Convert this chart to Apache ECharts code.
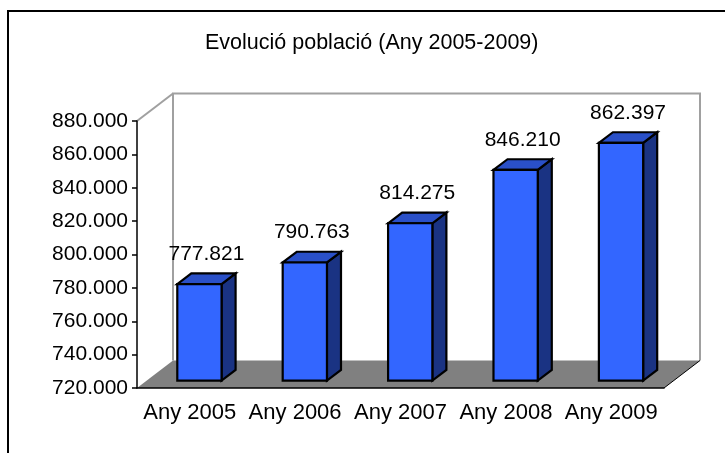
<!DOCTYPE html>
<html>
<head>
<meta charset="utf-8">
<script src="https://cdn.jsdelivr.net/npm/echarts@6/dist/echarts.min.js"></script>
<style>
  html, body { margin: 0; padding: 0; background: #fff; }
  #chart { width: 725px; height: 453px; }
</style>
</head>
<body>
<div id="chart"></div>
<script>
// Population by year
var years = ['Any 2005', 'Any 2006', 'Any 2007', 'Any 2008', 'Any 2009'];
var population = [777821, 790763, 814275, 846210, 862397];
var yMin = 720000, yMax = 880000, yStep = 20000;

var FONT = 'Liberation Sans, Arial, sans-serif';
// depth of the 3D box, in pixels
var DX = 36, DY = 27.5;
// bar placement inside the depth (fractions) and bar width (fraction of a category)
var BAR_FRONT = 0.27, BAR_DEPTH = 0.39, BAR_WIDTH = 0.42;

function fmt(v) {
  return String(Math.round(v)).replace(/\B(?=(\d{3})+(?!\d))/g, '.');
}

// walls and floor of the 3D frame
function renderFrame(params, api) {
  var cs = params.coordSys;
  var x0 = cs.x, x1 = cs.x + cs.width, yt = cs.y, yb = cs.y + cs.height;
  var edge = { fill: 'none', stroke: '#a0a0a0', lineWidth: 2 };
  return {
    type: 'group',
    children: [
      { type: 'polygon', shape: { points: [[x0, yt], [x0 + DX, yt - DY], [x0 + DX, yb - DY], [x0, yb]] },
        style: { fill: '#ffffff', stroke: 'none' } },
      { type: 'rect', shape: { x: x0 + DX, y: yt - DY, width: cs.width, height: cs.height },
        style: { fill: '#ffffff', stroke: 'none' } },
      { type: 'polyline', shape: { points: [[x0 + DX, yb - DY], [x0 + DX, yt - DY], [x1 + DX, yt - DY], [x1 + DX, yb - DY]] },
        style: edge },
      { type: 'line', shape: { x1: x0, y1: yt, x2: x0 + DX, y2: yt - DY }, style: edge },
      { type: 'polygon', shape: { points: [[x0, yb], [x0 + DX, yb - DY], [x1 + DX, yb - DY], [x1, yb]] },
        style: { fill: '#808080', stroke: 'none' } },
      { type: 'line', shape: { x1: x1, y1: yb, x2: x1 + DX, y2: yb - DY },
        style: { fill: 'none', stroke: '#000', lineWidth: 1 } }
    ]
  };
}

// 3D bar: front, top and right side faces plus the value label
function renderBar(params, api) {
  var i = api.value(0), v = api.value(1);
  var top = api.coord([i, v]);
  var bot = api.coord([i, yMin]);
  var w = api.size([1, 0])[0] * BAR_WIDTH;
  var fx = BAR_FRONT * DX, fy = BAR_FRONT * DY;
  var bx = BAR_DEPTH * DX, by = BAR_DEPTH * DY;
  var xl = top[0] - w / 2 + fx, xr = top[0] + w / 2 + fx;
  var yT = top[1] - fy, yB = bot[1] - fy;
  var line = { stroke: '#000', lineWidth: 2.2, lineJoin: 'miter' };
  return {
    type: 'group',
    children: [
      { type: 'polygon', shape: { points: [[xr, yT], [xr + bx, yT - by], [xr + bx, yB - by], [xr, yB]] },
        style: Object.assign({ fill: '#1a3383' }, line) },
      { type: 'polygon', shape: { points: [[xl, yT], [xl + bx, yT - by], [xr + bx, yT - by], [xr, yT]] },
        style: Object.assign({ fill: '#2a50c8' }, line) },
      { type: 'rect', shape: { x: xl, y: yT, width: w, height: yB - yT },
        style: Object.assign({ fill: '#3366ff' }, line) },
      { type: 'text', style: { text: fmt(v), x: (xl + xr + bx) / 2, y: yT - by - 9,
        align: 'center', verticalAlign: 'bottom', fontSize: 21, fontFamily: FONT,
        fill: '#000000', stroke: 'none' } }
    ]
  };
}

var chart = echarts.init(document.getElementById('chart'), null, { renderer: 'canvas' });
chart.setOption({
  backgroundColor: '#ffffff',
  animation: false,
  title: {
    text: 'Evolució població (Any 2005-2009)',
    left: 200, top: 27,
    textStyle: { fontSize: 21.5, fontWeight: 'normal', fontFamily: FONT, color: '#000' }
  },
  graphic: [{
    type: 'rect', z: 100, silent: true,
    shape: { x: 8, y: 11, width: 740, height: 470 },
    style: { fill: 'none', stroke: '#000', lineWidth: 2 }
  }],
  grid: { left: 137, top: 121, width: 527, height: 267 },
  xAxis: {
    type: 'category', data: years,
    axisLine: { lineStyle: { color: '#000', width: 1.5 } },
    axisTick: { length: 7, interval: 0, lineStyle: { color: '#000', width: 1.5 } },
    axisLabel: { interval: 0, margin: 14, fontSize: 22, fontFamily: FONT, color: '#000' },
    splitLine: { show: false }
  },
  yAxis: {
    type: 'value', min: yMin, max: yMax, interval: yStep,
    axisLine: { show: true, lineStyle: { color: '#000', width: 1.5 } },
    axisTick: { show: true, length: 5, lineStyle: { color: '#000', width: 1.5 } },
    axisLabel: { margin: 9, fontSize: 21, fontFamily: FONT, color: '#000', formatter: fmt },
    splitLine: { show: false }
  },
  series: [
    { type: 'custom', z: -1, silent: true, renderItem: renderFrame, data: [[0, yMin]], clip: false },
    { type: 'custom', z: 2, renderItem: renderBar, clip: false,
      data: population.map(function (v, i) { return [i, v]; }) }
  ]
});
</script>
</body>
</html>
